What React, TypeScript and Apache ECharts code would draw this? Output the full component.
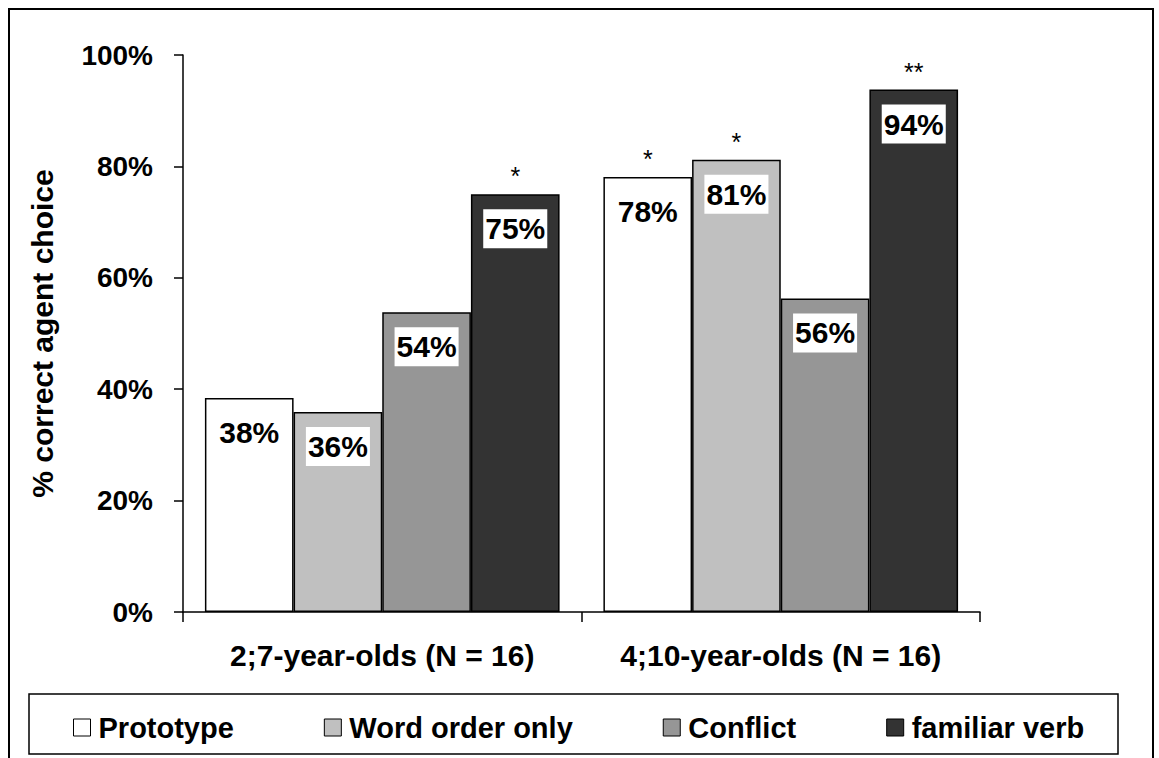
import React, { useEffect, useRef } from "react";
import * as echarts from "echarts";

const categories = ["2;7-year-olds (N = 16)", "4;10-year-olds (N = 16)"];
const seriesNames = ["Prototype", "Word order only", "Conflict", "familiar verb"];
const prototype = [38.4, 78.1];
const wordOrderOnly = [35.9, 81.2];
const conflict = [53.8, 56.3];
const familiarVerb = [75.0, 93.8];
const prototypeSig = ["", "*"];
const wordOrderSig = ["", "*"];
const conflictSig = ["", ""];
const familiarSig = ["*", "**"];
const yTicks = [0, 20, 40, 60, 80, 100];

const colors = ["#ffffff", "#c0c0c0", "#969696", "#333333"];
const FONT = "'Liberation Sans', Arial, Helvetica, sans-serif";

export default function App() {
  const ref = useRef<HTMLDivElement>(null);
  useEffect(() => {
    document.body.style.margin = "0";
    const chart = echarts.init(ref.current!, undefined, { renderer: "svg" });
    const values = [prototype, wordOrderOnly, conflict, familiarVerb];
    const sigs = [prototypeSig, wordOrderSig, conflictSig, familiarSig];
    const series = seriesNames.map((name, i) => ({
      type: "bar",
      name,
      data: values[i],
      barGap: "0%",
      barCategoryGap: "11%",
      itemStyle: { color: colors[i], borderColor: "#000", borderWidth: 1.5 },
      label: {
        show: true,
        position: "insideTop",
        distance: 15,
        formatter: (p: any) => Math.round(p.value) + "%",
        backgroundColor: "#ffffff",
        padding: [4, 2, 4, 2],
        color: "#000",
        fontSize: 30,
        lineHeight: 31,
        fontWeight: "bold",
        fontFamily: FONT,
      },
      markPoint: {
        symbol: "circle",
        symbolSize: 0,
        silent: true,
        label: {
          show: true,
          position: "inside",
          offset: [0, -18],
          formatter: (p: any) => p.name,
          color: "#000",
          fontSize: 25,
          fontFamily: FONT,
        },
        data: sigs[i]
          .map((s, c) => ({ s, c }))
          .filter((d) => d.s !== "")
          .map((d) => ({ name: d.s, coord: [d.c, values[i][d.c]], value: values[i][d.c] })),
      },
    }));

    chart.setOption({
      animation: false,
      backgroundColor: "#ffffff",
      textStyle: { fontFamily: FONT },
      grid: { left: 183, top: 55, right: 179, bottom: 146, containLabel: false },
      legend: {
        left: 68,
        top: 708,
        itemWidth: 17,
        itemHeight: 17,
        itemGap: 90,
        icon: "rect",
        data: seriesNames,
        textStyle: {
          fontSize: 29,
          fontWeight: "bold",
          color: "#000",
          fontFamily: FONT,
          padding: [0, 0, 0, 3],
        },
        itemStyle: { borderColor: "#000", borderWidth: 1 },
      },
      xAxis: {
        type: "category",
        data: categories,
        axisLine: { show: true, lineStyle: { color: "#000", width: 1.5 } },
        axisTick: { show: true, length: 10, lineStyle: { color: "#000", width: 1.5 } },
        axisLabel: {
          interval: 0,
          hideOverlap: false,
          fontSize: 30,
          fontWeight: "bold",
          color: "#000",
          margin: 28,
          fontFamily: FONT,
        },
      },
      yAxis: {
        type: "value",
        min: yTicks[0],
        max: yTicks[yTicks.length - 1],
        interval: 20,
        name: "% correct agent choice",
        nameLocation: "middle",
        nameRotate: 90,
        nameGap: 126,
        nameTextStyle: { fontSize: 30, fontWeight: "bold", color: "#000", fontFamily: FONT },
        axisLine: { show: true, lineStyle: { color: "#000", width: 1.5 } },
        axisTick: { show: true, length: 9, lineStyle: { color: "#000", width: 1.5 } },
        splitLine: { show: false },
        axisLabel: {
          formatter: "{value}%",
          fontSize: 28,
          fontWeight: "bold",
          color: "#000",
          margin: 30,
          fontFamily: FONT,
        },
      },
      graphic: [
        {
          type: "rect",
          shape: { x: 9, y: 9, width: 1144, height: 760 },
          style: { fill: "none", stroke: "#000", lineWidth: 2 },
          silent: true,
          z: 100,
        },
        {
          type: "rect",
          shape: { x: 29, y: 694, width: 1089, height: 60 },
          style: { fill: "none", stroke: "#000", lineWidth: 1.5 },
          silent: true,
          z: 100,
        },
      ],
      series,
    });
    return () => chart.dispose();
  }, []);
  return <div ref={ref} style={{ width: 1159, height: 758 }} />;
}
